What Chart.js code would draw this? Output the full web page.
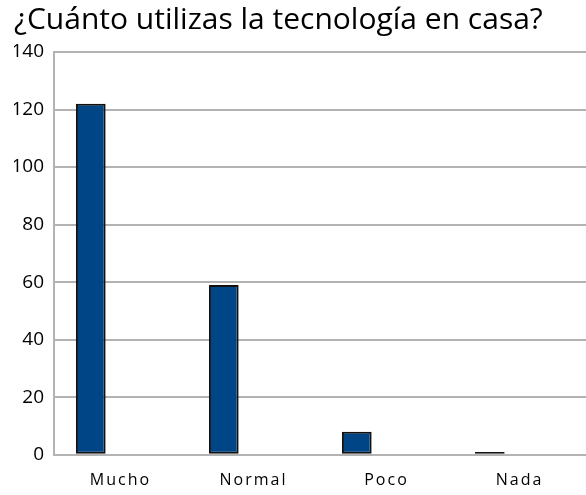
<!DOCTYPE html>
<html>
<head>
<meta charset="utf-8">
<script src="https://cdn.jsdelivr.net/npm/chart.js@4"></script>
<style>
  html, body { margin: 0; padding: 0; background: #fff; }
  #wrap { width: 586px; height: 495px; }
</style>
</head>
<body>
<div id="wrap"><canvas id="techChart"></canvas></div>
<script>
const categories = ['Mucho', 'Normal', 'Poco', 'Nada'];
const usage = [122, 59, 8, 1];
const emptySeries = [null, null, null, null];
const yTicks = [0, 20, 40, 60, 80, 100, 120, 140];

const ctx = document.getElementById('techChart').getContext('2d');

// the category names in the original are drawn a little spaced out
const spacedLabels = {
    id: 'spacedLabels',
    beforeDraw(chart) {
        const scale = chart.scales.x;
        if (!scale || scale._spaced) return;
        const original = scale.drawLabels.bind(scale);
        scale.drawLabels = area => {
            chart.ctx.letterSpacing = '2px';
            original(area);
            chart.ctx.letterSpacing = '0px';
        };
        scale._spaced = true;
    }
};

const chart = new Chart(ctx, {
    type: 'bar',
    data: {
        labels: categories,
        datasets: [
            {
                label: 'Uso',
                data: usage,
                backgroundColor: '#004586',
                borderColor: '#111111',
                borderWidth: 2,
                borderSkipped: false
            },
            // two empty slots so the bar sits on the left of each category, like the original
            { label: '', data: emptySeries },
            { label: '', data: emptySeries }
        ]
    },
    options: {
        responsive: true,
        maintainAspectRatio: false,
        animation: false,
        categoryPercentage: 0.67,
        barPercentage: 1,
        layout: { padding: { left: 14, right: 0, top: 0, bottom: -11 } },
        plugins: {
            legend: { display: false },
            tooltip: { enabled: false },
            title: {
                display: true,
                text: '¿Cuánto utilizas la tecnología en casa?',
                align: 'start',
                color: '#000',
                font: { family: 'Open Sans', size: 30, weight: 'normal' },
                padding: { top: 2, bottom: 14 }
            }
        },
        scales: {
            x: {
                grid: { display: false, drawTicks: false },
                border: { display: false },
                ticks: {
                    color: '#000',
                    font: { family: 'Open Sans', size: 16 },
                    padding: 16,
                    maxRotation: 0
                }
            },
            y: {
                min: 0,
                max: 140,
                afterBuildTicks: axis => {
                    axis.ticks = yTicks.map(v => ({ value: v }));
                },
                afterFit: axis => {
                    axis.width = 40;
                },
                grid: { color: '#b3b3b3', lineWidth: 2, drawTicks: false },
                border: { display: true, color: '#b3b3b3', width: 2 },
                ticks: {
                    color: '#000',
                    font: { family: 'Open Sans', size: 19 },
                    padding: 10
                }
            }
        }
    },
    plugins: [spacedLabels]
});
</script>
</body>
</html>
